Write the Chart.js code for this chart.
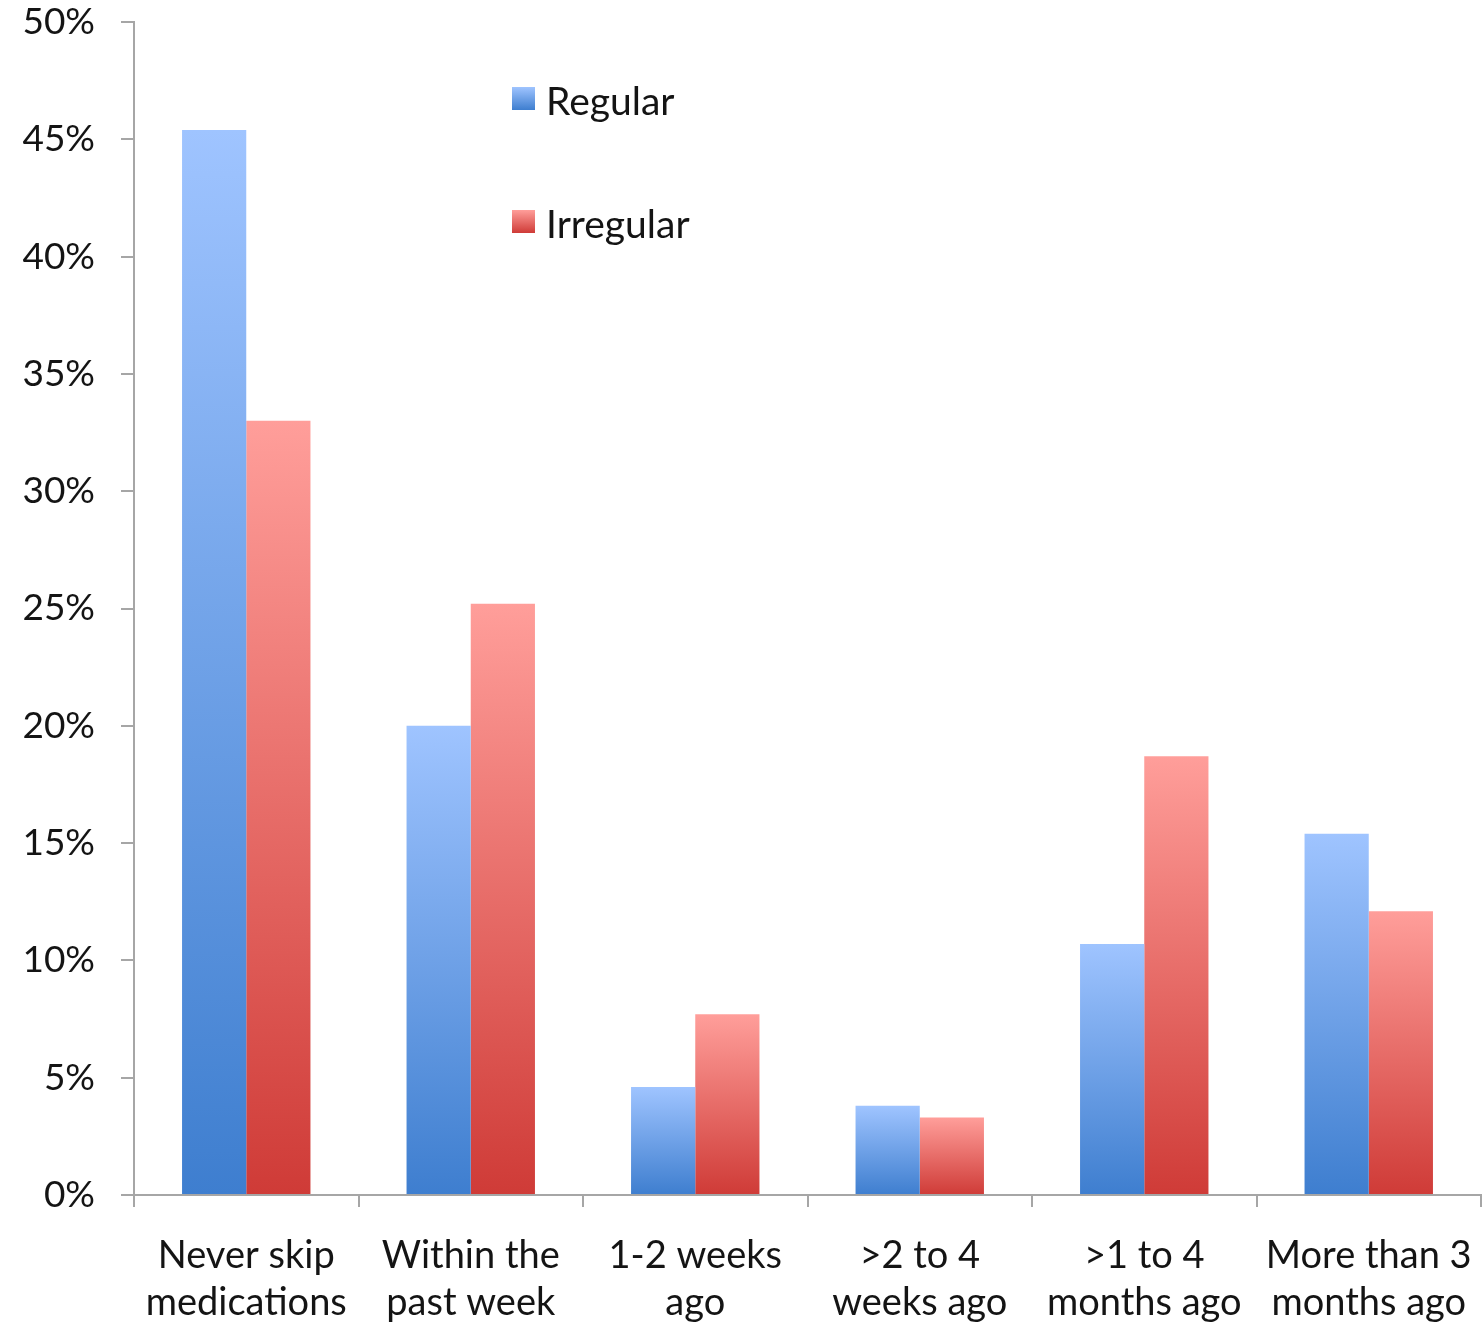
<!DOCTYPE html>
<html>
<head>
<meta charset="utf-8">
<script src="https://cdn.jsdelivr.net/npm/chart.js@4.4.1/dist/chart.umd.min.js"></script>
<style>
  html, body { margin: 0; padding: 0; background: #fff; }
  #wrap { width: 1484px; height: 1323px; }
</style>
</head>
<body>
<div id="wrap"><canvas id="chart"></canvas></div>
<script>
// Data
const categories = [
  ['Never skip', 'medications'],
  ['Within the', 'past week'],
  ['1-2 weeks', 'ago'],
  ['>2 to 4', 'weeks ago'],
  ['>1 to 4', 'months ago'],
  ['More than 3', 'months ago'],
];
const regular = [45.4, 20.0, 4.6, 3.8, 10.7, 15.4];
const irregular = [33.0, 25.2, 7.7, 3.3, 18.7, 12.1];
const yTicks = [0, 5, 10, 15, 20, 25, 30, 35, 40, 45, 50];

const FONT = 'Lato, "Open Sans", sans-serif';
const AXIS = '#a6a6a6';
const TEXT = '#141414';

const GRADS = {
  blue: ['#9fc4ff', '#3e7ecf'],
  red: ['#ff9e9a', '#cf3b37'],
};

// one gradient per bar: light at the top, dark at the base
function barFill(key) {
  return ctx => {
    const chart = ctx.chart;
    const y = chart.scales && chart.scales.y;
    if (!y || ctx.raw == null) return GRADS[key][1];
    const top = y.getPixelForValue(ctx.raw);
    const base = y.getPixelForValue(0);
    if (!isFinite(top) || !isFinite(base) || top === base) return GRADS[key][1];
    const g = chart.ctx.createLinearGradient(0, top, 0, base);
    g.addColorStop(0, GRADS[key][0]);
    g.addColorStop(1, GRADS[key][1]);
    return g;
  };
}

// legend drawn inside the plot, like the original
const insideLegend = {
  id: 'insideLegend',
  afterDraw(chart) {
    const c = chart.ctx;
    const rows = [
      { label: chart.data.datasets[0].label, key: 'blue', y: 99 },
      { label: chart.data.datasets[1].label, key: 'red', y: 222 },
    ];
    c.save();
    c.font = '39px ' + FONT;
    c.textBaseline = 'middle';
    for (const r of rows) {
      const g = c.createLinearGradient(0, r.y - 12, 0, r.y + 11);
      g.addColorStop(0, GRADS[r.key][0]);
      g.addColorStop(1, GRADS[r.key][1]);
      c.fillStyle = g;
      c.fillRect(512, r.y - 12, 23, 23);
      c.fillStyle = TEXT;
      c.fillText(r.label, 546, r.y + 3);
    }
    c.restore();
  },
};

new Chart(document.getElementById('chart'), {
  type: 'bar',
  data: {
    labels: categories,
    datasets: [
      { label: 'Regular', data: regular, backgroundColor: barFill('blue'), borderWidth: 0 },
      { label: 'Irregular', data: irregular, backgroundColor: barFill('red'), borderWidth: 0 },
    ],
  },
  options: {
    responsive: true,
    maintainAspectRatio: false,
    animation: false,
    layout: { padding: { top: 22, right: 3, left: 0, bottom: 0 } },
    datasets: { bar: { categoryPercentage: 0.572, barPercentage: 1 } },
    plugins: { legend: { display: false }, tooltip: { enabled: false } },
    scales: {
      x: {
        grid: { display: true, drawOnChartArea: false, offset: true, color: AXIS, lineWidth: 2, tickLength: 12 },
        border: { color: AXIS, width: 2 },
        ticks: { color: TEXT, font: { family: FONT, size: 38, lineHeight: 1.24 }, padding: 25, maxRotation: 0, autoSkip: false },
        afterFit: s => { s.height = 128; s.paddingLeft = 0; s.paddingRight = 0; },
      },
      y: {
        min: 0,
        max: 50,
        afterBuildTicks: s => { s.ticks = yTicks.map(v => ({ value: v })); },
        grid: { display: true, drawOnChartArea: false, color: AXIS, lineWidth: 2, tickLength: 13 },
        border: { color: AXIS, width: 2 },
        ticks: { color: TEXT, font: { family: FONT, size: 37 }, padding: 26, callback: v => v + '%' },
        afterFit: s => { s.width = 134; s.paddingTop = 0; s.paddingBottom = 0; },
      },
    },
  },
  plugins: [insideLegend],
});
</script>
</body>
</html>
